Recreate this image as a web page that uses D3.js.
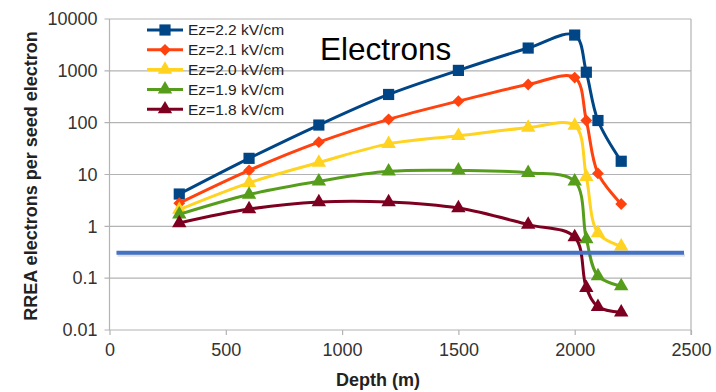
<!DOCTYPE html>
<html>
<head>
<meta charset="utf-8">
<script src="https://cdn.jsdelivr.net/npm/d3@7"></script>
<style>
  body { margin: 0; background: #fff; }
  svg { font-family: "Liberation Sans", Arial, sans-serif; }
</style>
</head>
<body>
<svg id="chart" width="716" height="392"></svg>
<script>
// datos
var profundidad = [300, 600, 900, 1200, 1500, 1800, 2000, 2050, 2100, 2200];
var ez22 = [4.2, 20.5, 90, 350, 1020, 2750, 4900, 940, 110, 18];
var ez21 = [2.8, 12, 42, 116, 260, 545, 740, 110, 10.5, 2.7];
var ez20 = [2.1, 6.9, 17, 39, 56, 80, 88, 9, 0.74, 0.41];
var ez19 = [1.7, 4.1, 7.4, 11.5, 12, 10.8, 7.4, 0.57, 0.11, 0.07];
var ez18 = [1.16, 2.15, 2.95, 2.95, 2.25, 1.08, 0.62, 0.065, 0.028, 0.022];
var etiquetas = ["Ez=2.2 kV/cm", "Ez=2.1 kV/cm", "Ez=2.0 kV/cm", "Ez=1.9 kV/cm", "Ez=1.8 kV/cm"];
var ticksX = [0, 500, 1000, 1500, 2000, 2500];
var ticksY = [0.01, 0.1, 1, 10, 100, 1000, 10000];
var umbral = 0.31;         // linea azul horizontal
var umbralX = [30, 2470];

var colores = ["#004586", "#ff420e", "#ffd320", "#579d1c", "#7e0021"];
var simbolos = [d3.symbolSquare, d3.symbolSquare, d3.symbolTriangle, d3.symbolTriangle, d3.symbolTriangle];
var giros = [0, 45, 0, 0, 0];   // el rombo es un cuadrado girado
var tamanos = [125, 70, 90, 90, 90];
var series = [ez22, ez21, ez20, ez19, ez18];

var svg = d3.select("#chart");
var x = d3.scaleLinear().domain([0, 2500]).range([109.5, 691]);
var y = d3.scaleLog().domain([0.01, 10000]).range([330, 19]);

// rejilla
svg.append("g").selectAll("line")
  .data(ticksY)
  .join("line")
  .attr("x1", x(0) - 5).attr("x2", x(2500))
  .attr("y1", d => y(d)).attr("y2", d => y(d))
  .attr("stroke", "#b3b3b3").attr("stroke-width", 1.2);

svg.append("line")
  .attr("x1", x(0)).attr("x2", x(0)).attr("y1", y(10000)).attr("y2", y(0.01))
  .attr("stroke", "#b3b3b3").attr("stroke-width", 1.2);
svg.append("line")
  .attr("x1", x(2500)).attr("x2", x(2500)).attr("y1", y(10000)).attr("y2", y(0.01) + 5)
  .attr("stroke", "#b3b3b3").attr("stroke-width", 1.2);

// ejes
var ejeX = svg.append("g")
  .attr("transform", "translate(0," + y(0.01) + ")")
  .call(d3.axisBottom(x).tickValues(ticksX).tickSize(5).tickPadding(8).tickFormat(d3.format("d")));
ejeX.select(".domain").remove();
ejeX.selectAll("line").attr("stroke", "#b3b3b3").attr("stroke-width", 1.2);
ejeX.selectAll("text").attr("font-size", 18).attr("fill", "#333").attr("font-family", "Liberation Sans, Arial, sans-serif");

var ejeY = svg.append("g")
  .attr("transform", "translate(" + x(0) + ",0)")
  .call(d3.axisLeft(y).tickValues(ticksY).tickSize(0).tickPadding(12).tickFormat(d => String(d)));
ejeY.select(".domain").remove();
ejeY.selectAll("text").attr("font-size", 18).attr("fill", "#333").attr("font-family", "Liberation Sans, Arial, sans-serif");

// titulos de ejes
svg.append("text")
  .attr("transform", "translate(37,176) rotate(-90)")
  .attr("text-anchor", "middle")
  .attr("font-size", 18).attr("font-weight", "bold").attr("fill", "#222")
  .text("RREA electrons per seed electron");
svg.append("text")
  .attr("x", 378).attr("y", 386)
  .attr("text-anchor", "middle")
  .attr("font-size", 18).attr("font-weight", "bold").attr("fill", "#222")
  .text("Depth (m)");

// lineas de las series
var linea = d3.line()
  .x((d, i) => x(profundidad[i]))
  .y(d => y(d))
  .curve(d3.curveCatmullRom.alpha(0.5));

series.forEach(function (s, k) {
  var g = svg.append("g");
  g.append("path")
    .attr("d", linea(s))
    .attr("fill", "none")
    .attr("stroke", colores[k])
    .attr("stroke-width", 3);
  g.selectAll("path.m")
    .data(s)
    .join("path")
    .attr("class", "m")
    .attr("transform", (d, i) => "translate(" + x(profundidad[i]) + "," + y(d) + ") rotate(" + giros[k] + ")")
    .attr("d", d3.symbol().type(simbolos[k]).size(tamanos[k]))
    .attr("fill", colores[k]);
});

// linea azul de umbral con sombra
svg.append("line")
  .attr("x1", x(umbralX[0]) + 1).attr("x2", x(umbralX[1]) + 1)
  .attr("y1", y(umbral) + 2.5).attr("y2", y(umbral) + 2.5)
  .attr("stroke", "#000").attr("stroke-opacity", 0.12).attr("stroke-width", 3);
svg.append("line")
  .attr("x1", x(umbralX[0])).attr("x2", x(umbralX[1]))
  .attr("y1", y(umbral)).attr("y2", y(umbral))
  .attr("stroke", "#4472c4").attr("stroke-width", 4);

// leyenda
var leyenda = svg.selectAll(".legend")
  .data(etiquetas)
  .join("g")
  .attr("class", "legend")
  .attr("transform", (d, i) => "translate(147," + (30 + i * 19.8) + ")");
leyenda.append("line")
  .attr("x1", 0).attr("x2", 36)
  .attr("stroke", (d, i) => colores[i]).attr("stroke-width", 3);
leyenda.append("path")
  .attr("transform", (d, i) => "translate(18,0) rotate(" + giros[i] + ")")
  .attr("d", (d, i) => d3.symbol().type(simbolos[i]).size(tamanos[i])())
  .attr("fill", (d, i) => colores[i]);
leyenda.append("text")
  .attr("x", 41).attr("dy", "0.35em")
  .attr("font-size", 15.5).attr("fill", "#222")
  .text(d => d);

// titulo
svg.append("text")
  .attr("x", 320).attr("y", 60)
  .attr("font-size", 31.5).attr("fill", "#000")
  .text("Electrons");
</script>
</body>
</html>
